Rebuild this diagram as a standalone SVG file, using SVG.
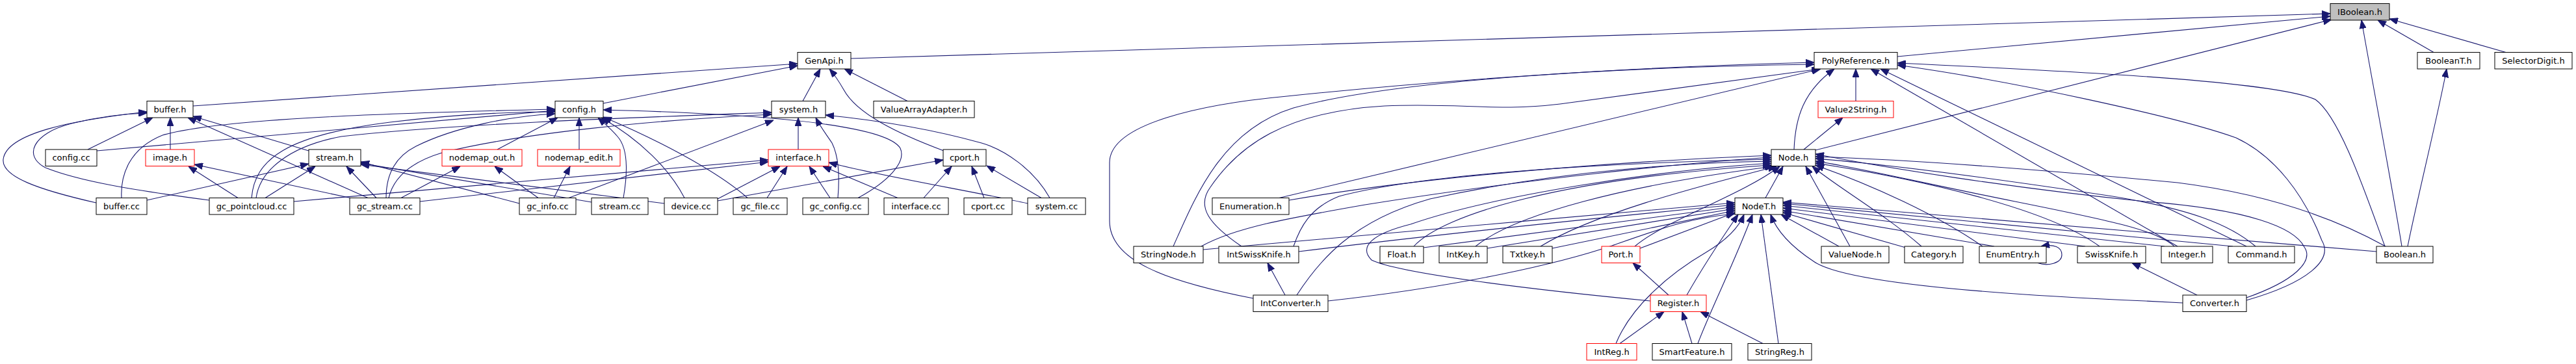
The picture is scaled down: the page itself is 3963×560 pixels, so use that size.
<svg xmlns="http://www.w3.org/2000/svg" width="3963" height="560" viewBox="0 0 3963 560">
<style>
.n rect{fill:#fff;stroke:#000;stroke-width:1}
.r rect{stroke:#f00}
.g rect{fill:#bfbfbf}
.n text{font-family:"DejaVu Sans","Liberation Sans",sans-serif;font-size:13px;text-anchor:middle;fill:#000}
.e path{fill:none;stroke:#191970;stroke-width:1.1;marker-end:url(#a)}
</style>
<defs>
<marker id="a" markerWidth="13" markerHeight="10" refX="13" refY="5" orient="auto" markerUnits="userSpaceOnUse"><path d="M0,0 L13,5 L0,10 z" fill="#191970" stroke="#191970" stroke-width="1"/></marker>
</defs>
<rect width="3963" height="560" fill="#fff"/>
<g id="connectors" class="e">
<path d="M1309,90 L3585,21"/>
<path d="M2919,87 L3585,25"/>
<path d="M2793,231 L3587,30"/>
<path d="M3695,379 C3686,320 3645,100 3633,31"/>
<path d="M3744,80.5 L3658,31"/>
<path d="M3855,80.5 L3676,29"/>
<path d="M3704,379 C3720,300 3750,180 3764,106"/>
<path d="M297,163 L1227,98"/>
<path d="M928,159 L1227,101"/>
<path d="M1235,155.5 L1262,106"/>
<path d="M1452,232 C1380,205 1318,175 1298,138 C1290,124 1283,114 1276,106"/>
<path d="M1396,155.5 L1299,106"/>
<path d="M135,230 L235,181"/>
<path d="M262,230 L262,181"/>
<path d="M475,232 L297,179"/>
<path d="M566,304.5 L289,181"/>
<path d="M148,312 C60,292 2,272 5,245 C10,205 110,185 226,172"/>
<path d="M322,308 C200,292 120,278 70,258 C35,240 50,205 110,190 C150,180 190,175 226,174"/>
<path d="M149,232 L854,170"/>
<path d="M187,304.5 C185,268 200,228 250,208 C340,182 600,174 854,168"/>
<path d="M387,304.5 C392,245 440,208 600,188 C700,176 780,172 854,172"/>
<path d="M594,304.5 C594,280 600,245 640,225 C700,195 790,178 854,175"/>
<path d="M765,230 L858,181"/>
<path d="M891,230 L891,181"/>
<path d="M959,304.5 C965,270 968,230 950,210 C940,198 930,190 920,181"/>
<path d="M1053,304.5 C1030,260 985,215 925,181"/>
<path d="M1150,304.5 C1100,260 1000,210 928,180"/>
<path d="M1320,304.5 C1365,280 1395,250 1385,228 C1365,195 1200,176 928,169"/>
<path d="M394,304.5 C400,262 445,225 525,210 C700,190 1000,180 1187,173"/>
<path d="M598,304.5 C605,275 630,250 680,235 C800,205 1000,185 1187,176"/>
<path d="M1228,230 L1228,181"/>
<path d="M875,304.5 L1190,185"/>
<path d="M1289,304.5 C1292,270 1290,240 1280,220 C1270,205 1262,195 1255,181"/>
<path d="M1615,304.5 C1590,260 1545,230 1510,220 C1420,195 1330,183 1270,177"/>
<path d="M366,304.5 L290,256"/>
<path d="M539,304.5 L299,253"/>
<path d="M226,308 L475,252"/>
<path d="M408,304.5 L485,256"/>
<path d="M579,304.5 L533,256"/>
<path d="M799,313 L555,249"/>
<path d="M910,311 L555,251"/>
<path d="M1022,313 L555,253"/>
<path d="M828,304.5 L761,256"/>
<path d="M617,304.5 L708,256"/>
<path d="M852,304.5 L877,256"/>
<path d="M452,310 L1182,246"/>
<path d="M646,310 L1182,249"/>
<path d="M1104,306 L1200,256"/>
<path d="M1180,304.5 L1211,256"/>
<path d="M1277,304.5 L1245,256"/>
<path d="M1381,304.5 L1266,256"/>
<path d="M1581,313 C1500,295 1350,270 1275,250"/>
<path d="M1421,304.5 L1464,256"/>
<path d="M1514,304.5 L1495,256"/>
<path d="M1602,304.5 L1518,255"/>
<path d="M1104,309 L1451,246"/>
<path d="M2760,230 C2762,180 2775,140 2822,106"/>
<path d="M2855,155.5 L2855,106"/>
<path d="M2775,230 L2835,181"/>
<path d="M1928,459 C1790,432 1707,400 1707,340 L1707,250 C1707,190 1850,160 1980,148 C2200,125 2500,103 2791,96"/>
<path d="M1805,379 C1840,300 1880,200 1990,166 C2150,122 2500,103 2791,99"/>
<path d="M1910,379 C1860,345 1840,318 1862,288 C1905,225 1975,172 2130,163 C2250,158 2300,172 2400,160 C2550,140 2700,120 2800,106"/>
<path d="M1968,304.5 L2801,106"/>
<path d="M3350,379 L2878,106"/>
<path d="M3456,379 L2893,106"/>
<path d="M3669,379 C3640,300 3600,180 3562,153 C3500,125 3200,110 2919,97"/>
<path d="M3456,462 C3550,435 3590,400 3572,370 C3545,300 3500,240 3440,212 C3350,180 3100,125 2919,100"/>
<path d="M2716,304.5 L2743,256"/>
<path d="M1983,308 C2200,270 2500,248 2725,239"/>
<path d="M1848,379 C1900,350 1980,336 2100,315 C2350,275 2600,250 2725,242"/>
<path d="M1990,379 C2000,350 2015,320 2060,302 C2200,265 2500,250 2725,245"/>
<path d="M1995,454 C2030,400 2080,340 2200,306 C2400,262 2600,250 2725,248"/>
<path d="M2539,463 C2350,445 2150,420 2110,400 C2090,380 2110,360 2170,345 C2300,300 2550,262 2725,251"/>
<path d="M2175,379 C2220,330 2400,275 2725,254"/>
<path d="M2270,379 C2330,330 2500,285 2728,256"/>
<path d="M2370,379 C2450,330 2600,290 2733,256"/>
<path d="M2515,379 C2560,340 2680,300 2738,256"/>
<path d="M2846,379 L2778,256"/>
<path d="M2956,379 C2900,330 2830,290 2788,256"/>
<path d="M3050,379 C2980,330 2880,285 2793,254"/>
<path d="M3230,379 C3150,320 2950,275 2793,251"/>
<path d="M3345,379 C3320,355 3250,340 3100,310 C2950,280 2850,256 2793,248"/>
<path d="M3470,379 C3430,345 3370,322 3250,302 C3050,272 2900,252 2793,244"/>
<path d="M3670,379 C3600,340 3500,300 3350,281 C3150,262 2950,246 2793,241"/>
<path d="M3456,458 C3530,432 3560,402 3545,380 C3530,350 3460,322 3300,310 C3100,290 2900,258 2793,237"/>
<path d="M1851,384 C2100,362 2400,335 2669,312"/>
<path d="M1998,387 C2200,362 2450,336 2669,315"/>
<path d="M2190,381 L2669,318"/>
<path d="M2288,382 L2669,321"/>
<path d="M2388,382 L2669,324"/>
<path d="M2523,382 L2669,327"/>
<path d="M2043,463 C2250,440 2400,405 2480,378 C2560,350 2600,335 2669,329"/>
<path d="M2595,454 C2620,410 2650,365 2674,330"/>
<path d="M2486,528.5 C2510,470 2570,420 2625,388 C2655,370 2675,350 2683,330"/>
<path d="M2612,528.5 C2630,480 2670,400 2696,330"/>
<path d="M2736,528.5 L2709,330"/>
<path d="M3358,466 L3300,463 C3000,450 2830,430 2790,402 C2752,377 2732,352 2724,330"/>
<path d="M2829,379 L2740,330"/>
<path d="M2932,381 L2743,327"/>
<path d="M3068,379 L2743,324"/>
<path d="M3208,379 L2743,320"/>
<path d="M3330,379 L2743,316"/>
<path d="M3435,379 L2743,313"/>
<path d="M3656,387 L2743,311"/>
<path d="M1977,454 L1950,404.5"/>
<path d="M3380,454 L3280,404.5"/>
<path d="M2567,454 L2512,404.5"/>
<path d="M2492,528.5 L2560,479.5"/>
<path d="M2603,528.5 L2588,479.5"/>
<path d="M2712,528.5 L2616,479.5"/>
<path d="M3135,404.5 C3150,410 3172,405 3172,392 C3172,380 3160,375 3140,379"/>
</g>
<g id="n_IBoolean" class="n g"><rect x="3585" y="5.5" width="91" height="25.5"/><text x="3630.5" y="22.5">IBoolean.h</text></g>
<g id="n_GenApi" class="n"><rect x="1227" y="80.5" width="82" height="25.5"/><text x="1268" y="97.5">GenApi.h</text></g>
<g id="n_PolyReference" class="n"><rect x="2791" y="80.5" width="128" height="25.5"/><text x="2855" y="97.5">PolyReference.h</text></g>
<g id="n_BooleanT" class="n"><rect x="3719" y="80.5" width="96" height="25.5"/><text x="3767" y="97.5">BooleanT.h</text></g>
<g id="n_SelectorDigit" class="n"><rect x="3838" y="80.5" width="119" height="25.5"/><text x="3897.5" y="97.5">SelectorDigit.h</text></g>
<g id="n_buffer_h" class="n"><rect x="226" y="155.5" width="71" height="25.5"/><text x="261.5" y="172.5">buffer.h</text></g>
<g id="n_config_h" class="n"><rect x="854" y="155.5" width="74" height="25.5"/><text x="891" y="172.5">config.h</text></g>
<g id="n_system_h" class="n"><rect x="1187" y="155.5" width="83" height="25.5"/><text x="1228.5" y="172.5">system.h</text></g>
<g id="n_ValueArrayAdapter" class="n"><rect x="1344" y="155.5" width="155" height="25.5"/><text x="1421.5" y="172.5">ValueArrayAdapter.h</text></g>
<g id="n_Value2String" class="n r"><rect x="2797" y="155.5" width="116" height="25.5"/><text x="2855" y="172.5">Value2String.h</text></g>
<g id="n_config_cc" class="n"><rect x="70" y="230" width="79" height="25.5"/><text x="109.5" y="247">config.cc</text></g>
<g id="n_image_h" class="n r"><rect x="224" y="230" width="75" height="25.5"/><text x="261.5" y="247">image.h</text></g>
<g id="n_stream_h" class="n"><rect x="475" y="230" width="80" height="25.5"/><text x="515" y="247">stream.h</text></g>
<g id="n_nodemap_out" class="n r"><rect x="680" y="230" width="123" height="25.5"/><text x="741.5" y="247">nodemap_out.h</text></g>
<g id="n_nodemap_edit" class="n r"><rect x="827" y="230" width="127" height="25.5"/><text x="890.5" y="247">nodemap_edit.h</text></g>
<g id="n_interface_h" class="n r"><rect x="1182" y="230" width="93" height="25.5"/><text x="1228.5" y="247">interface.h</text></g>
<g id="n_cport_h" class="n"><rect x="1451" y="230" width="66" height="25.5"/><text x="1484" y="247">cport.h</text></g>
<g id="n_Node" class="n"><rect x="2725" y="230" width="68" height="25.5"/><text x="2759" y="247">Node.h</text></g>
<g id="n_buffer_cc" class="n"><rect x="148" y="304.5" width="78" height="25.5"/><text x="187" y="321.5">buffer.cc</text></g>
<g id="n_gc_pointcloud" class="n"><rect x="322" y="304.5" width="130" height="25.5"/><text x="387" y="321.5">gc_pointcloud.cc</text></g>
<g id="n_gc_stream" class="n"><rect x="538" y="304.5" width="108" height="25.5"/><text x="592" y="321.5">gc_stream.cc</text></g>
<g id="n_gc_info" class="n"><rect x="799" y="304.5" width="87" height="25.5"/><text x="842.5" y="321.5">gc_info.cc</text></g>
<g id="n_stream_cc" class="n"><rect x="910" y="304.5" width="87" height="25.5"/><text x="953.5" y="321.5">stream.cc</text></g>
<g id="n_device_cc" class="n"><rect x="1022" y="304.5" width="82" height="25.5"/><text x="1063" y="321.5">device.cc</text></g>
<g id="n_gc_file" class="n"><rect x="1128" y="304.5" width="83" height="25.5"/><text x="1169.5" y="321.5">gc_file.cc</text></g>
<g id="n_gc_config" class="n"><rect x="1235" y="304.5" width="101" height="25.5"/><text x="1285.5" y="321.5">gc_config.cc</text></g>
<g id="n_interface_cc" class="n"><rect x="1360" y="304.5" width="99" height="25.5"/><text x="1409.5" y="321.5">interface.cc</text></g>
<g id="n_cport_cc" class="n"><rect x="1483" y="304.5" width="74" height="25.5"/><text x="1520" y="321.5">cport.cc</text></g>
<g id="n_system_cc" class="n"><rect x="1581" y="304.5" width="89" height="25.5"/><text x="1625.5" y="321.5">system.cc</text></g>
<g id="n_Enumeration" class="n"><rect x="1865" y="304.5" width="118" height="25.5"/><text x="1924" y="321.5">Enumeration.h</text></g>
<g id="n_NodeT" class="n"><rect x="2669" y="304.5" width="74" height="25.5"/><text x="2706" y="321.5">NodeT.h</text></g>
<g id="n_StringNode" class="n"><rect x="1744" y="379" width="107" height="25.5"/><text x="1797.5" y="396">StringNode.h</text></g>
<g id="n_IntSwissKnife" class="n"><rect x="1875" y="379" width="123" height="25.5"/><text x="1936.5" y="396">IntSwissKnife.h</text></g>
<g id="n_Float" class="n"><rect x="2123" y="379" width="67" height="25.5"/><text x="2156.5" y="396">Float.h</text></g>
<g id="n_IntKey" class="n"><rect x="2214" y="379" width="74" height="25.5"/><text x="2251" y="396">IntKey.h</text></g>
<g id="n_TxtKey" class="n"><rect x="2312" y="379" width="76" height="25.5"/><text x="2350" y="396">Txtkey.h</text></g>
<g id="n_Port" class="n r"><rect x="2464" y="379" width="59" height="25.5"/><text x="2493.5" y="396">Port.h</text></g>
<g id="n_ValueNode" class="n"><rect x="2802" y="379" width="104" height="25.5"/><text x="2854" y="396">ValueNode.h</text></g>
<g id="n_Category" class="n"><rect x="2930" y="379" width="90" height="25.5"/><text x="2975" y="396">Category.h</text></g>
<g id="n_EnumEntry" class="n"><rect x="3045" y="379" width="103" height="25.5"/><text x="3096.5" y="396">EnumEntry.h</text></g>
<g id="n_SwissKnife" class="n"><rect x="3196" y="379" width="105" height="25.5"/><text x="3248.5" y="396">SwissKnife.h</text></g>
<g id="n_Integer" class="n"><rect x="3325" y="379" width="79" height="25.5"/><text x="3364.5" y="396">Integer.h</text></g>
<g id="n_Command" class="n"><rect x="3428" y="379" width="102" height="25.5"/><text x="3479" y="396">Command.h</text></g>
<g id="n_Boolean" class="n"><rect x="3656" y="379" width="87" height="25.5"/><text x="3699.5" y="396">Boolean.h</text></g>
<g id="n_IntConverter" class="n"><rect x="1928" y="454" width="115" height="25.5"/><text x="1985.5" y="471">IntConverter.h</text></g>
<g id="n_Register" class="n r"><rect x="2539" y="454" width="86" height="25.5"/><text x="2582" y="471">Register.h</text></g>
<g id="n_Converter" class="n"><rect x="3358" y="454" width="98" height="25.5"/><text x="3407" y="471">Converter.h</text></g>
<g id="n_IntReg" class="n r"><rect x="2441" y="528.5" width="77" height="25.5"/><text x="2479.5" y="545.5">IntReg.h</text></g>
<g id="n_SmartFeature" class="n"><rect x="2542" y="528.5" width="122" height="25.5"/><text x="2603" y="545.5">SmartFeature.h</text></g>
<g id="n_StringReg" class="n"><rect x="2689" y="528.5" width="98" height="25.5"/><text x="2738" y="545.5">StringReg.h</text></g>
</svg>
